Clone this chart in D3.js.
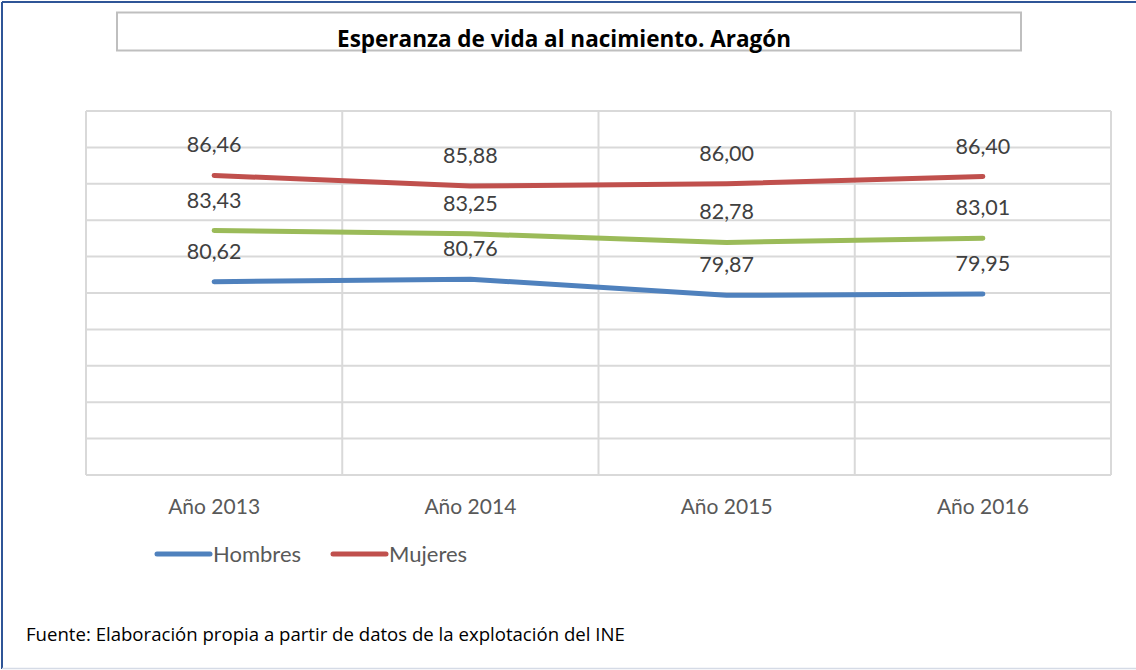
<!DOCTYPE html>
<html>
<head>
<meta charset="utf-8">
<script src="https://cdn.jsdelivr.net/npm/d3@7"></script>
<style>
  body { margin: 0; background: #fff; }
  text { font-family: Lato, "Open Sans", sans-serif; }
</style>
</head>
<body>
<svg id="chart" width="1136" height="670"></svg>
<script>
// datos
const anios = ["Año 2013", "Año 2014", "Año 2015", "Año 2016"]
const hombres = [80.62, 80.76, 79.87, 79.95]
const mujeres = [86.46, 85.88, 86.00, 86.40]
const total = [83.43, 83.25, 82.78, 83.01]
const yTicks = [70, 72, 74, 76, 78, 80, 82, 84, 86, 88, 90]

const series = [
    { nombre: "Hombres", valores: hombres, color: "#4f81bd", leyenda: true },
    { nombre: "Mujeres", valores: mujeres, color: "#c0504d", leyenda: true },
    { nombre: "Total", valores: total, color: "#9bbb59", leyenda: false }
]

const svg = d3.select("#chart")

// marco exterior
svg.append("line").attr("x1", 2).attr("x2", 1136).attr("y1", 2).attr("y2", 2)
    .style("stroke", "#2f5597").style("stroke-width", 2)
svg.append("line").attr("x1", 2).attr("x2", 2).attr("y1", 2).attr("y2", 669)
    .style("stroke", "#2f5597").style("stroke-width", 2)
svg.append("line").attr("x1", 2).attr("x2", 1136).attr("y1", 668.5).attr("y2", 668.5)
    .style("stroke", "#d5dbe6").style("stroke-width", 1.5)

// caja del título
svg.append("rect")
    .attr("x", 117).attr("y", 12.5).attr("width", 904).attr("height", 38)
    .style("fill", "none").style("stroke", "#bfbfbf").style("stroke-width", 2)

svg.append("text")
    .attr("x", 564).attr("y", 47)
    .attr("text-anchor", "middle")
    .style("font-family", "'Open Sans', sans-serif")
    .style("font-size", "22.5px").style("font-weight", "bold").style("fill", "#000")
    .text("Esperanza de vida al nacimiento. Aragón")

const pLeft = 86, pRight = 1111, pTop = 111, pBottom = 475

const x = d3.scaleBand().domain(anios).range([pLeft, pRight]).padding(0)
const y = d3.scaleLinear().domain([70, 90]).range([pBottom, pTop])

const g = svg.append("g")

// rejilla horizontal
g.selectAll(".hgrid")
    .data(yTicks)
    .enter()
    .append("line")
    .attr("x1", pLeft).attr("x2", pRight)
    .attr("y1", d => y(d)).attr("y2", d => y(d))
    .style("stroke", "#d9d9d9").style("stroke-width", 2)

// rejilla vertical
const bordes = anios.map(d => x(d)).concat([pRight])
g.selectAll(".vgrid")
    .data(bordes)
    .enter()
    .append("line")
    .attr("x1", d => d).attr("x2", d => d)
    .attr("y1", pTop).attr("y2", pBottom)
    .style("stroke", "#d9d9d9").style("stroke-width", 2)

// eje x
g.selectAll(".cat")
    .data(anios)
    .enter()
    .append("text")
    .attr("x", d => x(d) + x.bandwidth() / 2)
    .attr("y", 514)
    .attr("text-anchor", "middle")
    .style("font-size", "21px").style("fill", "#595959")
    .text(d => d)

const linea = d3.line()
    .x((d, i) => x(anios[i]) + x.bandwidth() / 2)
    .y(d => y(d))

series.forEach(s => {
    g.append("path")
        .datum(s.valores)
        .attr("d", linea)
        .style("fill", "none")
        .style("stroke", s.color)
        .style("stroke-width", 5)
        .style("stroke-linecap", "round")
        .style("stroke-linejoin", "round")

    g.selectAll(".lab-" + s.nombre)
        .data(s.valores)
        .enter()
        .append("text")
        .attr("x", (d, i) => x(anios[i]) + x.bandwidth() / 2)
        .attr("y", d => y(d) - 23)
        .attr("text-anchor", "middle")
        .style("font-size", "21.5px").style("fill", "#404040")
        .text(d => d.toFixed(2).replace(".", ","))
})

// leyenda
const leg = series.filter(s => s.leyenda)
const legX = [155, 331]
leg.forEach((s, i) => {
    g.append("line")
        .attr("x1", legX[i] + 2).attr("x2", legX[i] + 55)
        .attr("y1", 554).attr("y2", 554)
        .style("stroke", s.color).style("stroke-width", 5)
        .style("stroke-linecap", "round")
    g.append("text")
        .attr("x", legX[i] + 58).attr("y", 562)
        .style("font-size", "22px").style("fill", "#595959")
        .text(s.nombre)
})

// fuente
svg.append("text")
    .attr("x", 26).attr("y", 641)
    .style("font-family", "'Open Sans', sans-serif")
    .style("font-size", "18.6px").style("fill", "#000")
    .text("Fuente: Elaboración propia a partir de datos de la explotación del INE")
</script>
</body>
</html>
